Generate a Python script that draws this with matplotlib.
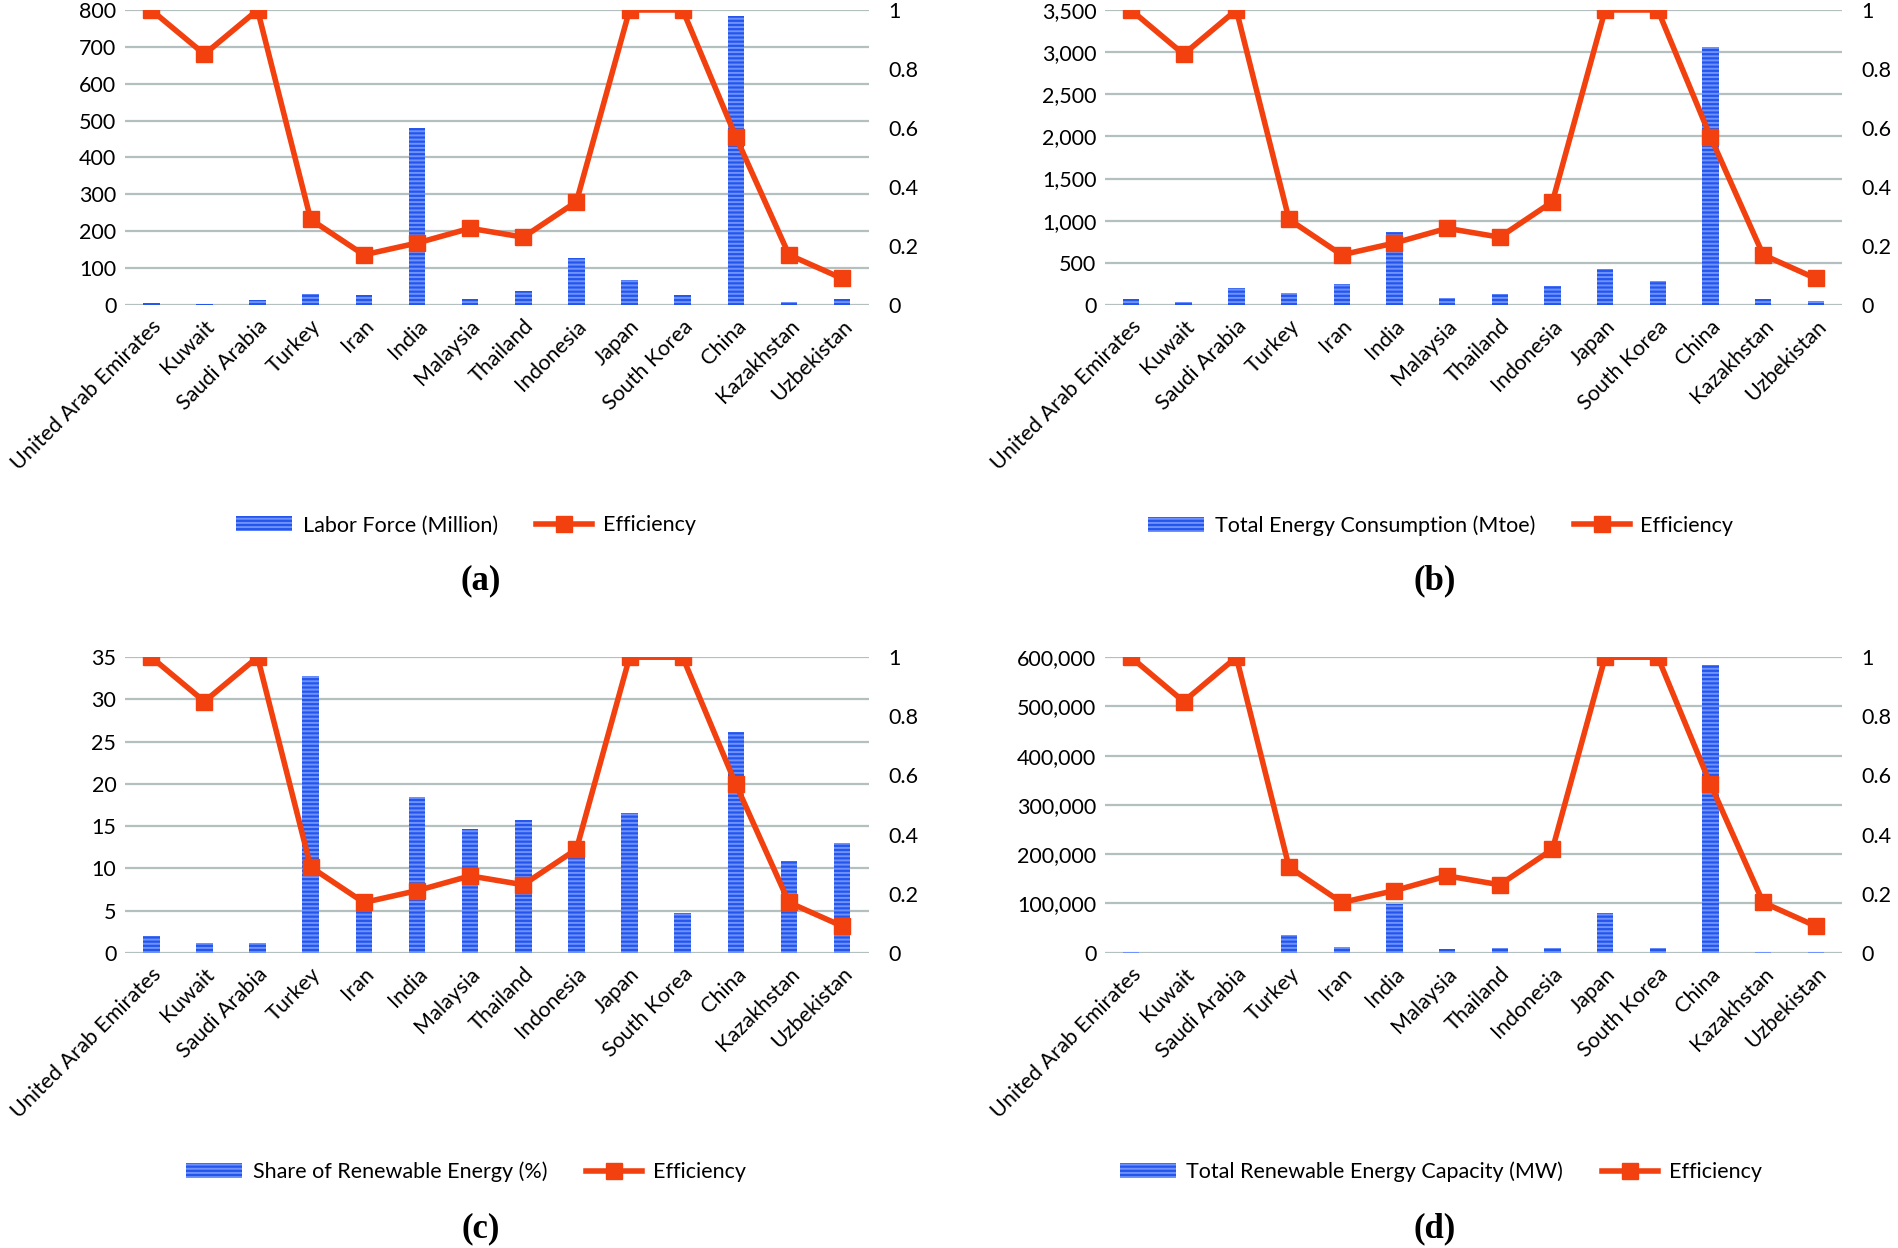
import matplotlib.pyplot as plt
from matplotlib import ticker
from matplotlib.patches import Patch
from matplotlib.lines import Line2D
import numpy as np

plt.rcParams['font.family'] = ['Lato', 'DejaVu Sans']
plt.rcParams['hatch.linewidth'] = 1.4

countries = ['United Arab Emirates', 'Kuwait', 'Saudi Arabia', 'Turkey', 'Iran', 'India',
             'Malaysia', 'Thailand', 'Indonesia', 'Japan', 'South Korea', 'China',
             'Kazakhstan', 'Uzbekistan']
efficiency = [1.0, 0.85, 1.0, 0.29, 0.17, 0.21, 0.26, 0.23, 0.35, 1.0, 1.0, 0.57, 0.17, 0.09]

labor_force = [5, 2, 13, 30, 27, 480, 15, 38, 128, 67, 27, 783, 9, 15]
energy_consumption = [70, 35, 200, 140, 245, 870, 80, 135, 225, 430, 290, 3060, 75, 45]
renewable_share = [2.0, 1.1, 1.1, 32.8, 6.8, 18.4, 14.7, 15.7, 12.8, 16.6, 4.7, 26.1, 10.9, 13.0]
renewable_capacity = [500, 100, 200, 35000, 12000, 98000, 7000, 9000, 9000, 80000, 9000, 585000, 2000, 1800]

panels = [
    ('(a)', 'Labor Force (Million)', labor_force, 800, 100, False),
    ('(b)', 'Total Energy Consumption (Mtoe)', energy_consumption, 3500, 500, True),
    ('(c)', 'Share of Renewable Energy (%)', renewable_share, 35, 5, False),
    ('(d)', 'Total Renewable Energy Capacity (MW)', renewable_capacity, 600000, 100000, True),
]

# axes rectangles [left, bottom, width, height] in figure fraction
rects = [
    [0.0657, 0.7556, 0.392, 0.2364],
    [0.582, 0.7556, 0.3886, 0.2364],
    [0.0657, 0.2366, 0.392, 0.2368],
    [0.582, 0.2366, 0.3886, 0.2368],
]
legend_pos = [(0.2455, 0.579), (0.759, 0.579), (0.2455, 0.061), (0.759, 0.061)]
label_pos = [(0.2532, 0.5345), (0.7558, 0.5345), (0.2532, 0.0155), (0.7558, 0.0155)]

bar_color = '#2456ec'
stripe_color = '#6f92ff'
line_color = '#f2400f'
grid_color = '#b4bfbf'
fs = 15.5

fig = plt.figure(figsize=(18.98, 12.48), dpi=100)

x = np.arange(len(countries))
for i, (tag, name, values, ymax, step, commas) in enumerate(panels):
    ax = fig.add_axes(rects[i])
    ax.bar(x, values, width=0.31, color=bar_color, edgecolor=stripe_color,
           hatch='----', linewidth=0, zorder=2)
    ax.set_ylim(0, ymax)
    ax.set_xlim(-0.5, len(countries) - 0.5)
    ax.set_yticks(np.arange(0, ymax + step / 2, step))
    if commas:
        ax.yaxis.set_major_formatter(ticker.StrMethodFormatter('{x:,.0f}'))
    ax.yaxis.grid(True, color=grid_color, linewidth=1.6, zorder=0)
    ax.set_axisbelow(True)
    ax.set_xticks(x)
    ax.set_xticklabels(countries, rotation=45, ha='right', rotation_mode='anchor')
    ax.tick_params(axis='both', length=0, labelsize=fs, pad=6)
    ax.tick_params(axis='x', pad=8)
    for s in ax.spines.values():
        s.set_visible(False)

    ax2 = ax.twinx()
    ax2.plot(x, efficiency, color=line_color, linewidth=4, marker='s',
             markersize=11, zorder=3)
    ax2.set_ylim(0, 1)
    ax2.set_yticks([0, 0.2, 0.4, 0.6, 0.8, 1.0])
    ax2.set_yticklabels(['0', '0.2', '0.4', '0.6', '0.8', '1'])
    ax2.tick_params(axis='y', length=0, labelsize=fs, pad=14)
    for s in ax2.spines.values():
        s.set_visible(False)

    handles = [
        Patch(facecolor=bar_color, edgecolor=stripe_color, hatch='----', linewidth=0),
        Line2D([0], [0], color=line_color, linewidth=4, marker='s', markersize=11),
    ]
    fig.legend(handles, [name, 'Efficiency'], loc='center', ncol=2, frameon=False,
               bbox_to_anchor=legend_pos[i], fontsize=fs, handlelength=2.6,
               columnspacing=1.8, handletextpad=0.5)

    fig.text(label_pos[i][0], label_pos[i][1], tag, ha='center', va='center',
             fontsize=25, fontweight='bold', family='Liberation Serif')

fig.savefig('out.png', dpi=100)
